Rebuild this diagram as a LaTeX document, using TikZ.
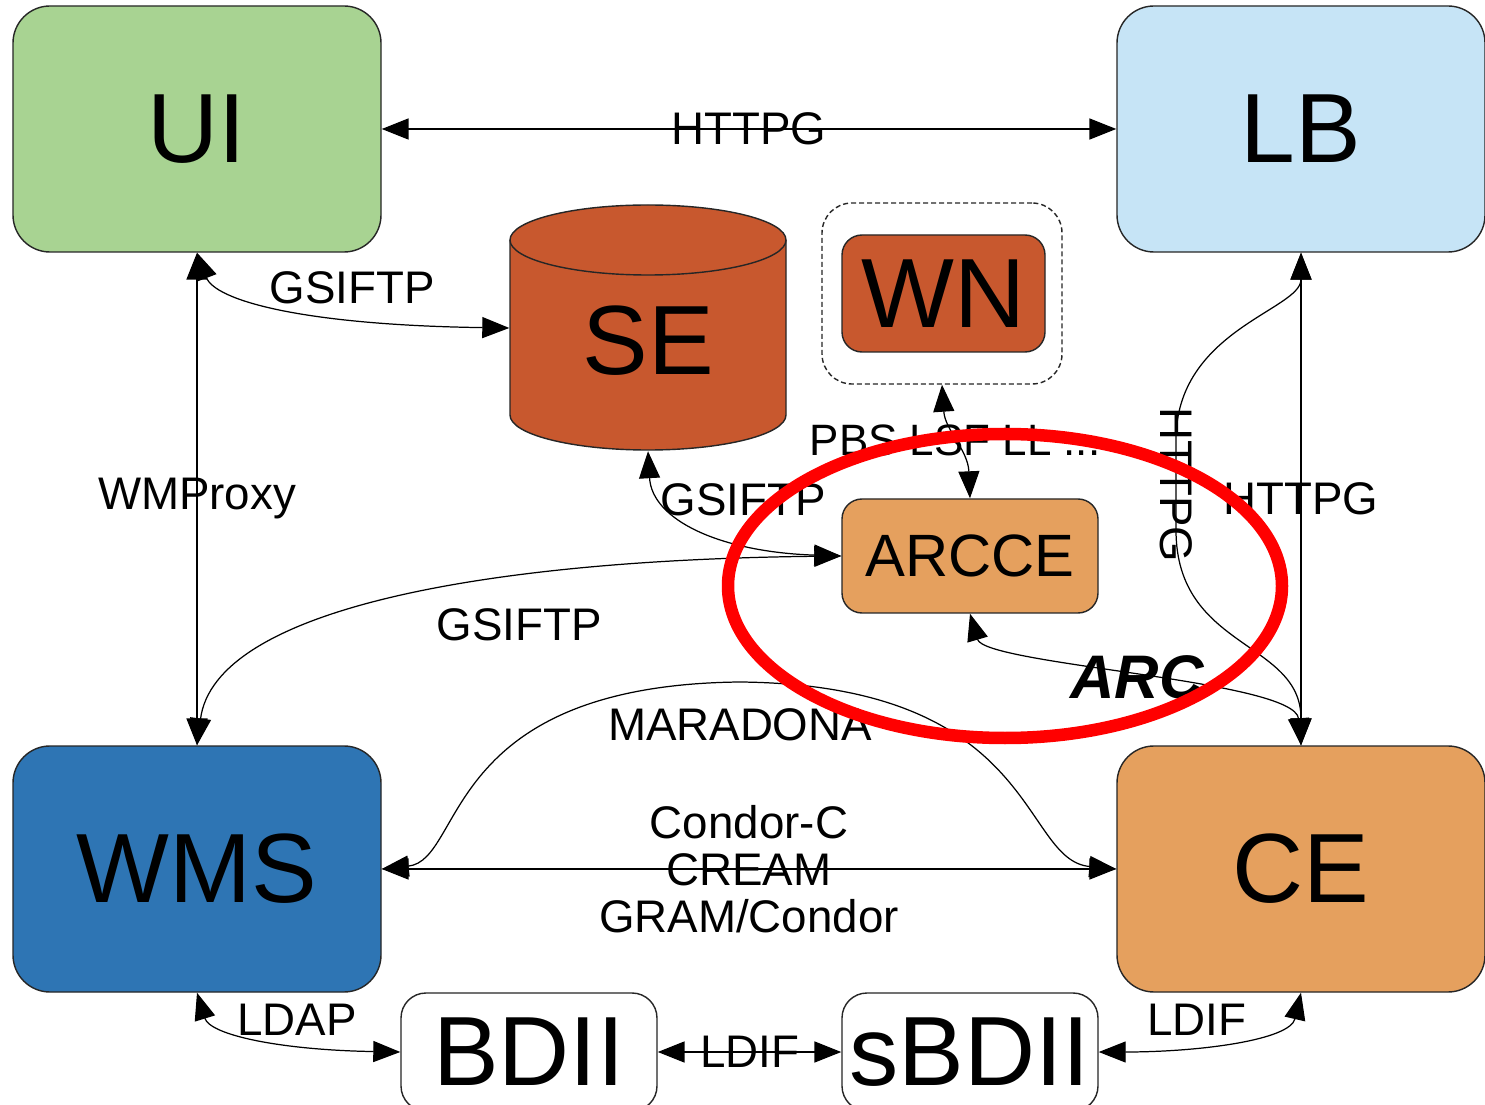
\documentclass[tikz,border=0pt]{standalone}
\usepackage{fontspec}
\setmainfont{Liberation Sans}
\usetikzlibrary{arrows.meta}
\definecolor{uigreen}{RGB}{168,211,146}
\definecolor{lbblue}{RGB}{198,228,246}
\definecolor{wmsblue}{RGB}{46,117,180}
\definecolor{ceorange}{RGB}{229,160,94}
\definecolor{serust}{RGB}{200,88,46}
\begin{document}
\begin{tikzpicture}[x = 0.1mm, y = -0.1mm,
		box/.style = {draw = black!85, line width = .4pt, rounded corners = 3.7mm, minimum width = 36.8mm, minimum height = 24.6mm, inner sep = 0pt, font = \fontsize{28}{30}\selectfont},
		smallbox/.style = {draw = black!85, line width = .4pt, rounded corners = 2mm, inner sep = 0pt},
		link/.style = {{Triangle[length = 2.7mm, width = 2.1mm]}-{Triangle[length = 2.7mm, width = 2.1mm]}, line width = .5pt},
		curvy/.style = {link, line width = .35pt},
		lbl/.style = {font = \fontsize{13}{13.4}\selectfont, inner sep = 0pt}]
		\path[use as bounding box, fill = white] (0,0) rectangle (1485,1105);
		\clip (0,0) rectangle (1485,1105);
	
		% corner boxes
		\node[box, fill = uigreen] (UI) at (197,129) {UI};
		\node[box, fill = lbblue] (LB) at (1301,129) {LB};
		\node[box, fill = wmsblue] (WMS) at (197,869) {WMS};
		\node[box, fill = ceorange] (CE) at (1301,869) {CE};
	
		% storage element (cylinder)
		\draw[draw = black!85, line width = .4pt, fill = serust] (510,240) -- (510,415) arc[start angle = 180, end angle = 0, x radius = 138, y radius = 35] -- (786,240) arc[start angle = 0, end angle = -180, x radius = 138, y radius = 35] -- cycle;
		\draw[draw = black!85, line width = .4pt] (510,240) arc[start angle = 180, end angle = 0, x radius = 138, y radius = 35];
		\node[minimum width = 27.6mm, minimum height = 24.5mm, inner sep = 0pt] (SE) at (648,328) {};
		\node[font = \fontsize{28}{30}\selectfont] (SEtext) at (648,341) {SE};
	
		% worker node
		\node[draw = black!85, line width = .4pt, dash pattern = on .5mm off .3mm, rounded corners = 3mm, minimum width = 24mm, minimum height = 18.1mm] (WNbox) at (942,293.5) {};
		\node[smallbox, fill = serust, minimum width = 20.3mm, minimum height = 11.7mm, font = \fontsize{28}{30}\selectfont] (WN) at (943.5,293.5) {WN};
		\node[smallbox, fill = ceorange, minimum width = 25.6mm, minimum height = 11.4mm, font = \fontsize{17}{20}\selectfont] (ARCCE) at (970,556) {ARCCE};
	
		% information system
		\node[smallbox, rounded corners = 2.5mm, minimum width = 25.6mm, minimum height = 11.8mm, font = \fontsize{28}{30}\selectfont] (BDII) at (529,1052) {BDII};
		\node[smallbox, rounded corners = 2.5mm, minimum width = 25.6mm, minimum height = 11.8mm, font = \fontsize{28}{30}\selectfont] (sBDII) at (970,1052) {sBDII};
	
		\draw[link] (UI) -- node[lbl] (httpgtop) {HTTPG} (LB); %UI to LB
		\draw[link] (UI) -- node[lbl] (wmproxy) {WMProxy} (WMS); %UI to WMS
		\draw[link] (LB) -- node[lbl] (httpgright) {HTTPG} (CE); %LB to CE
		\draw[link] (WMS) -- node[lbl, align = center] (submit) {Condor-C\\CREAM\\GRAM/Condor} (CE); %WMS to CE
		\draw[link] (BDII) -- node[lbl] (ldifmid) {LDIF} (sBDII); %BDII to sBDII
	
		\draw[curvy] (UI.south) .. controls (215,300) and (300,325) .. (SE.west); %UI to SE
		\node[lbl] (gsiftpui) at (352,288) {GSIFTP};
		\draw[curvy] (LB.south) .. controls (1301,310) and (1176,330) .. (1176,440) -- node[lbl, rotate = -90] (httpgcurve) {HTTPG} (1176,530) .. controls (1176,650) and (1301,640) .. (CE.north); %LB to CE
		\draw[curvy] (SE.south) .. controls (652,520) and (720,552) .. (ARCCE.west); %SE to ARCCE
		\node[lbl] (gsiftpse) at (743,500) {GSIFTP};
		\draw[curvy] (ARCCE.west) .. controls (480,560) and (215,610) .. (WMS.north); %ARCCE to WMS
		\node[lbl] (gsiftpwms) at (519,625) {GSIFTP};
		\draw[curvy] (WNbox.south) .. controls (945,430) and (968,450) .. (ARCCE.north); %WN to ARCCE
		\node[lbl, font = \fontsize{12.5}{14}\selectfont] (batch) at (955,440) {PBS LSF LL ...};
		\draw[curvy] (ARCCE.south) .. controls (985,665) and (1295,680) .. (CE.north); %ARCCE to CE
		\node[inner sep = 0pt, font = \fontsize{17.5}{20}\selectfont\bfseries\itshape] (arc) at (1137,677) {ARC};
		\draw[curvy] (WMS.east) .. controls (465,860) and (440,685) .. (740,682) .. controls (1040,685) and (1020,860) .. (CE.west); %WMS to CE
		\node[lbl] (maradona) at (740,725) {MARADONA};
		\draw[curvy] (WMS.south) .. controls (210,1035) and (280,1050) .. (BDII.west); %WMS to BDII
		\node[lbl] (ldap) at (297,1020) {LDAP};
		\draw[curvy] (CE.south) .. controls (1290,1040) and (1200,1052) .. (sBDII.east); %CE to sBDII
		\node[lbl] (ldifright) at (1197,1020) {LDIF};
	
		% highlight
		\draw[red, line width = 1.25mm] (1005,586) ellipse [x radius = 277, y radius = 152];
	\end{tikzpicture}
\end{document}
